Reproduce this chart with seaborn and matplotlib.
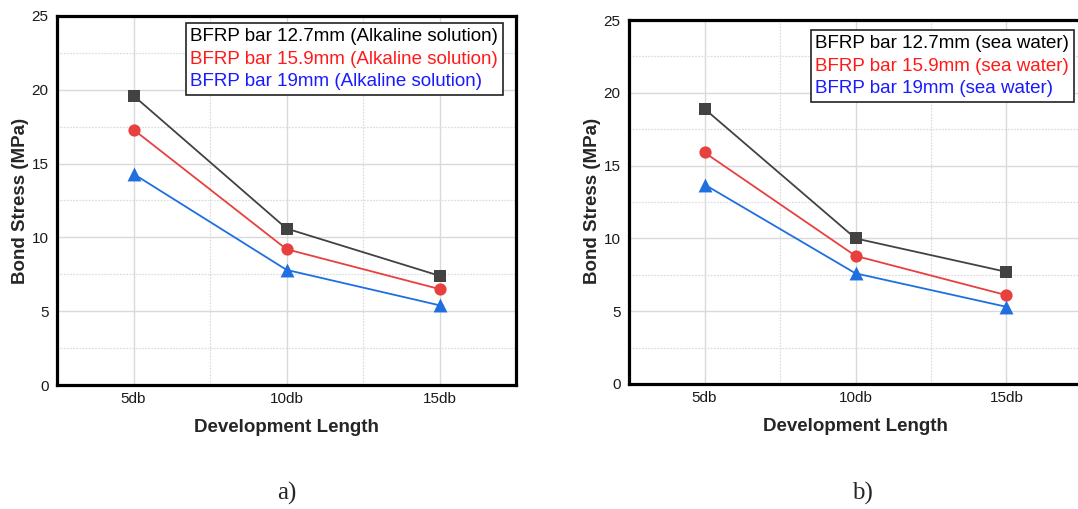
import numpy as np
import pandas as pd
import matplotlib
matplotlib.use("Agg")
import matplotlib.pyplot as plt
from matplotlib.ticker import FixedLocator, MultipleLocator
import seaborn as sns

# ---- data ----
lengths = ["5db", "10db", "15db"]

alk_127 = [19.6, 10.6, 7.4]
alk_159 = [17.3, 9.2, 6.5]
alk_19 = [14.3, 7.8, 5.4]

sea_127 = [18.9, 10.0, 7.7]
sea_159 = [15.9, 8.8, 6.1]
sea_19 = [13.7, 7.6, 5.3]

labels_alk = ["BFRP bar 12.7mm (Alkaline solution)",
              "BFRP bar 15.9mm (Alkaline solution)",
              "BFRP bar 19mm (Alkaline solution)"]
labels_sea = ["BFRP bar 12.7mm (sea water)",
              "BFRP bar 15.9mm (sea water)",
              "BFRP bar 19mm (sea water)"]

y_ticks = [0, 5, 10, 15, 20, 25]
panel_tags = ["a)", "b)"]

line_colors = ["#424242", "#e8403f", "#1f6fe0"]
text_colors = ["#000000", "#ff1a1a", "#1a1aff"]
markers = ["s", "o", "^"]
msizes = [8.2, 8.8, 10.0]

sns.set_style("white")
plt.rcParams["font.family"] = ["Liberation Sans", "DejaVu Sans"]

fig = plt.figure(figsize=(10.78, 5.09), dpi=100)
ax1 = fig.add_axes([0.0529, 0.2436, 0.4258, 0.7250])
ax2 = fig.add_axes([0.5835, 0.2456, 0.4202, 0.7151])


def make_df(series_vals, labels):
    rows = []
    for vals, lab in zip(series_vals, labels):
        for l, v in zip(lengths, vals):
            rows.append({"Development Length": l, "Bond Stress (MPa)": v, "series": lab})
    return pd.DataFrame(rows)


def draw(ax, series_vals, labels, leg_anchor, xlab_y, ylab_x, ylab_y):
    df = make_df(series_vals, labels)
    pal = dict(zip(labels, line_colors))
    sns.lineplot(data=df, x="Development Length", y="Bond Stress (MPa)",
                 hue="series", palette=pal, hue_order=labels, sort=False,
                 ax=ax, linewidth=1.3, legend=False, zorder=3)
    for vals, c, m, ms in zip(series_vals, line_colors, markers, msizes):
        sns.scatterplot(x=lengths, y=vals, ax=ax, color=c, marker=m,
                        s=ms ** 2, linewidth=0, zorder=4, legend=False)
    ax.set_xlim(-0.5, 2.5)
    ax.set_ylim(0, 25)
    ax.yaxis.set_major_locator(FixedLocator(y_ticks))
    ax.yaxis.set_minor_locator(MultipleLocator(2.5))
    ax.xaxis.set_minor_locator(FixedLocator([0.5, 1.5]))
    ax.grid(True, which="major", color="#d9d9d9", linewidth=1.0, linestyle="-", zorder=0)
    ax.grid(True, which="minor", color="#dedede", linewidth=0.9, linestyle=(0, (1.5, 1.0)), zorder=0)
    ax.set_axisbelow(True)
    ax.tick_params(axis="both", which="both", length=0, labelsize=11, colors="#1a1a1a")
    ax.tick_params(axis="y", pad=6)
    ax.tick_params(axis="x", pad=5)
    for s in ax.spines.values():
        s.set_linewidth(2.3)
        s.set_color("#000000")
    ax.set_xlabel("Development Length", fontsize=13.5, fontweight="bold")
    ax.set_ylabel("Bond Stress (MPa)", fontsize=13.5, fontweight="bold")
    ax.xaxis.set_label_coords(0.5, xlab_y)
    ax.yaxis.set_label_coords(ylab_x, ylab_y)

    handles = [plt.Line2D([], [], color="none") for _ in labels]
    leg = ax.legend(handles, labels, loc="upper right", bbox_to_anchor=leg_anchor,
                    borderaxespad=0, handlelength=0, handletextpad=0,
                    fontsize=13.5, labelspacing=0.3, borderpad=0.25,
                    fancybox=False, framealpha=1, edgecolor="#222222")
    leg.get_frame().set_linewidth(1.2)
    for t, c in zip(leg.get_texts(), text_colors):
        t.set_color(c)
    leg.set_zorder(10)


draw(ax1, [alk_127, alk_159, alk_19], labels_alk, (0.9717, 0.981), -0.092, -0.062, 0.5)
draw(ax2, [sea_127, sea_159, sea_19], labels_sea, (0.982, 0.9725), -0.093, -0.062, 0.503)

fig.text(287 / 1078, 1 - 493 / 509, panel_tags[0], ha="center", va="center",
         fontsize=18, family=["Liberation Serif", "DejaVu Serif"])
fig.text(862 / 1078, 1 - 493 / 509, panel_tags[1], ha="center", va="center",
         fontsize=18, family=["Liberation Serif", "DejaVu Serif"])

fig.savefig("out.png", dpi=100)
